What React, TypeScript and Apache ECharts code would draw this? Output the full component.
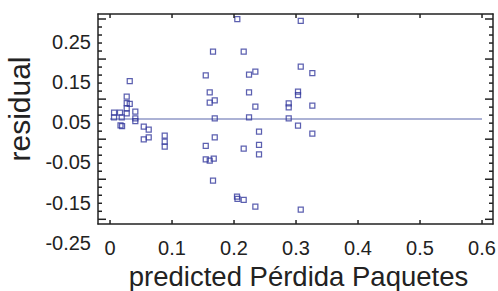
import React, { useEffect, useRef } from "react";
import * as echarts from "echarts";

// predicted values (x) and residuals (y)
const predicted: number[] = [
  0.0065, 0.0065, 0.0161, 0.0189, 0.0169, 0.0194, 0.0269, 0.0269, 0.0318, 0.0269,
  0.0269, 0.0318, 0.0408, 0.0408, 0.0408, 0.0544, 0.0624, 0.0544, 0.0624, 0.0882,
  0.0882, 0.0882, 0.1544, 0.1608, 0.1608, 0.1689, 0.1661, 0.1689, 0.1689, 0.1544,
  0.1544, 0.1608, 0.1673, 0.1661, 0.2053, 0.2156, 0.2242, 0.2344, 0.2242, 0.2344,
  0.2242, 0.2156, 0.2403, 0.2403, 0.2403, 0.2048, 0.2056, 0.2156, 0.2344, 0.3076,
  0.3076, 0.3263, 0.3032, 0.3032, 0.2882, 0.2882, 0.3263, 0.2882, 0.3032, 0.3263,
  0.3076,
];
const residual: number[] = [
  0.0736, 0.0622, 0.0736, 0.0622, 0.0419, 0.0406, 0.1134, 0.0977, 0.0953, 0.0846,
  0.0722, 0.1524, 0.0761, 0.0597, 0.053, 0.0389, 0.0314, 0.0076, 0.0125, 0.0165,
  0.0016, -0.0108, 0.1665, 0.1243, 0.0985, 0.1044, 0.2252, 0.0597, 0.0125, -0.0091,
  -0.0421, -0.0456, -0.0406, -0.0953, 0.3064, 0.2252, 0.168, 0.1755, 0.1243, 0.0886,
  0.0622, -0.0158, 0.0265, -0.0066, -0.0297, -0.135, -0.1407, -0.1432, -0.1598, 0.3022,
  0.1879, 0.1723, 0.1258, 0.1176, 0.097, 0.0871, 0.091, 0.0597, 0.0414, 0.0218,
  -0.1673,
];
// horizontal reference line
const refLineX: number[] = [0, 0.6];
const refLineY = 0.058;

// tick marks of the frame
const xTicks: number[] = [0, 0.1, 0.2, 0.3, 0.4, 0.5, 0.6];
const yMajorTicks: number[] = [-0.2, -0.1, 0, 0.1, 0.2, 0.3];
const yMinorTicks: number[] = [
  -0.18, -0.16, -0.14, -0.12, -0.08, -0.06, -0.04, -0.02, 0.02, 0.04,
  0.06, 0.08, 0.12, 0.14, 0.16, 0.18, 0.22, 0.24, 0.26, 0.28,
];

const xTitle = "predicted Pérdida Paquetes";
const yTitle = "residual";

const FONT = "'Liberation Sans', Arial, Helvetica, sans-serif";
const INK = "#222";
const MARK = "#33389c";

export default function App() {
  const ref = useRef<HTMLDivElement>(null);
  useEffect(() => {
    if (!ref.current) return;
    document.body.style.margin = "0";
    const chart = echarts.init(ref.current, null, { renderer: "svg" });
    const points = predicted.map((x, i) => [x, residual[i]]);
    const frameLine = () => ({ show: true, onZero: false, lineStyle: { color: INK, width: 1.5 } });
    const plain = () => ({
      axisTick: { show: false },
      axisLabel: { show: false },
      splitLine: { show: false },
    });
    const tickStyle = () => ({ stroke: INK, lineWidth: 1.5 });
    const yTickItems = [
      ...yMajorTicks.map((t) => [0, t, 8]),
      ...yMinorTicks.map((t) => [0, t, 4]),
    ];
    const xTickItems = xTicks.map((v) => [v, 0, 4]);

    chart.setOption({
      animation: false,
      grid: [
        { left: 98, top: 14, width: 395, height: 210, outerBoundsMode: "none" },
        { left: 98, top: 14, width: 395, height: 269.1, outerBoundsMode: "none" },
        { left: 98, top: 19, width: 395, height: 200.3, outerBoundsMode: "none" },
      ],
      xAxis: [
        {
          type: "value",
          gridIndex: 0,
          position: "bottom",
          min: -0.0194,
          max: 0.6177,
          axisLine: frameLine(),
          axisTick: { show: false },
          splitLine: { show: false },
          axisLabel: {
            show: true,
            fontSize: 20,
            fontFamily: FONT,
            color: INK,
            margin: 14,
            showMinLabel: false,
            showMaxLabel: false,
            formatter: (v: number) => String(Math.round(v * 10) / 10),
          },
          name: xTitle,
          nameLocation: "middle",
          nameGap: 36.5,
          nameTextStyle: { fontSize: 27.5, fontFamily: FONT, color: INK, padding: [0, 0, 0, 6] },
        },
        {
          type: "value",
          gridIndex: 0,
          position: "top",
          min: -0.0194,
          max: 0.6177,
          axisLine: frameLine(),
          ...plain(),
        },
        { type: "value", gridIndex: 1, min: 0, max: 1, show: false },
        { type: "value", gridIndex: 2, min: 0, max: 1, show: false },
      ],
      yAxis: [
        { type: "value", gridIndex: 0, position: "left", min: -0.203, max: 0.319, axisLine: frameLine(), ...plain() },
        { type: "value", gridIndex: 0, position: "right", min: -0.203, max: 0.319, axisLine: frameLine(), ...plain() },
        {
          type: "value",
          gridIndex: 1,
          min: -0.35,
          max: 0.319,
          interval: 0.1,
          axisLine: { show: false },
          axisTick: { show: false },
          splitLine: { show: false },
          axisLabel: {
            show: true,
            fontSize: 20,
            fontFamily: FONT,
            color: INK,
            margin: 7,
            showMinLabel: false,
            showMaxLabel: false,
            formatter: (v: number) => v.toFixed(2),
          },
        },
        { type: "value", gridIndex: 2, min: -0.2, max: 0.3, axisLine: { show: false }, ...plain() },
      ],
      graphic: [
        {
          type: "text",
          x: 19,
          y: 109,
          rotation: Math.PI / 2,
          style: {
            text: yTitle,
            font: `30px ${FONT}`,
            fill: INK,
            textAlign: "center",
            textVerticalAlign: "middle",
          },
        },
      ],
      series: [
        {
          type: "line",
          xAxisIndex: 0,
          yAxisIndex: 0,
          data: refLineX.map((x) => [x, refLineY]),
          showSymbol: false,
          symbol: "none",
          lineStyle: { color: "#5a66ab", width: 1.2 },
          z: 1,
        },
        {
          type: "scatter",
          xAxisIndex: 0,
          yAxisIndex: 0,
          data: points,
          symbol: "rect",
          symbolSize: 5,
          itemStyle: { color: "rgba(255,255,255,0)", borderColor: MARK, borderWidth: 1.25 },
          z: 2,
        },
        {
          // inward ticks on the left and right edges of the frame
          type: "custom",
          coordinateSystem: "cartesian2d",
          xAxisIndex: 3,
          yAxisIndex: 3,
          silent: true,
          clip: false,
          z: 3,
          data: yTickItems,
          renderItem: (params: any, api: any) => {
            const cs = params.coordSys;
            const y = api.coord([0, api.value(1)])[1];
            const len = api.value(2);
            return {
              type: "group",
              children: [
                { type: "line", shape: { x1: cs.x, y1: y, x2: cs.x + len, y2: y }, style: tickStyle() },
                { type: "line", shape: { x1: cs.x + cs.width - len, y1: y, x2: cs.x + cs.width, y2: y }, style: tickStyle() },
              ],
            };
          },
        },
        {
          // inward ticks on the top and bottom edges of the frame
          type: "custom",
          coordinateSystem: "cartesian2d",
          xAxisIndex: 0,
          yAxisIndex: 0,
          silent: true,
          clip: false,
          z: 3,
          data: xTickItems,
          renderItem: (params: any, api: any) => {
            const cs = params.coordSys;
            const x = api.coord([api.value(0), 0])[0];
            const len = api.value(2);
            return {
              type: "group",
              children: [
                { type: "line", shape: { x1: x, y1: cs.y, x2: x, y2: cs.y + len }, style: tickStyle() },
                { type: "line", shape: { x1: x, y1: cs.y + cs.height - len, x2: x, y2: cs.y + cs.height }, style: tickStyle() },
              ],
            };
          },
        },
      ],
    });
    return () => chart.dispose();
  }, []);
  return <div ref={ref} style={{ width: 498, height: 291, background: "#fff" }} />;
}
